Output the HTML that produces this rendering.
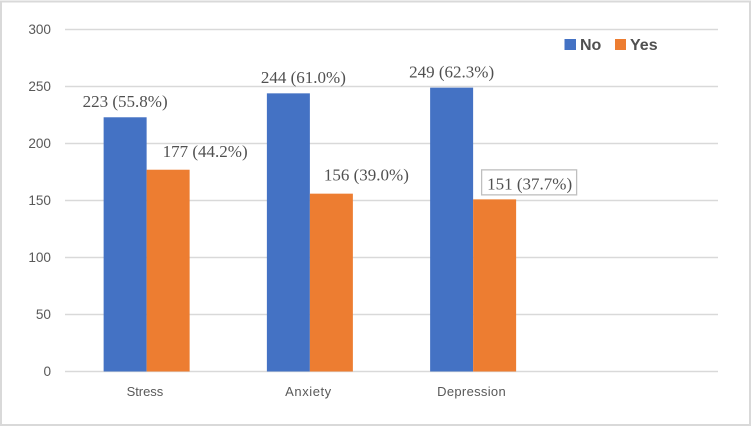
<!DOCTYPE html>
<html lang="en">
<head>
<meta charset="utf-8">
<title>Stress, Anxiety and Depression</title>
<style>
  html, body { margin: 0; padding: 0; background: #fff; }
  body { width: 752px; height: 426px; overflow: hidden; }
  svg { display: block; }
  .axis { font-family: "Liberation Sans", sans-serif; fill: #595959; }
  .val { font-family: "Liberation Serif", serif; font-size: 17px; fill: #505050; }
  .leg { font-family: "Liberation Sans", sans-serif; font-size: 16px; font-weight: bold; fill: #505050; }
</style>
</head>
<body>
<svg id="chart" width="752" height="426" viewBox="0 0 752 426" xmlns="http://www.w3.org/2000/svg">
  <rect x="1" y="1.5" width="749" height="423.5" fill="#fff" stroke="#d9d9d9" stroke-width="2"/>
  <g id="grid"></g>
  <g id="bars"></g>
  <g id="labels"></g>
  <g>
    <rect x="564.5" y="39" width="11.5" height="11" fill="#4472C4"/>
    <text class="leg" x="580" y="50">No</text>
    <rect x="615" y="39" width="11" height="11" fill="#ED7D31"/>
    <text class="leg" x="630" y="50">Yes</text>
  </g>
</svg>
<script>
const categories = ['Stress', 'Anxiety', 'Depression'];
const noValues = [223, 244, 249];
const yesValues = [177, 156, 151];
const noPercents = ['55.8', '61.0', '62.3'];
const yesPercents = ['44.2', '39.0', '37.7'];
const yTicks = [0, 50, 100, 150, 200, 250, 300];

const NS = 'http://www.w3.org/2000/svg';
const plot = { left: 65, right: 718, top: 29.5, bottom: 371.5, slots: 4, barW: 43 };
const noLabelShift = [[0, -10.5], [15, -10.5], [0, -10]];
const yesLabelShift = [[37, -12.5], [35, -13], [35, -10]];
const xLabelWidth = [36.6, 46, 68.5];

function yScale(v) {
  return plot.bottom - (v / 300) * (plot.bottom - plot.top);
}
function slotCentre(i) {
  return plot.left + (i + 0.5) * (plot.right - plot.left) / plot.slots;
}
function make(tag, attrs, parent, text) {
  const el = document.createElementNS(NS, tag);
  for (const k in attrs) el.setAttribute(k, attrs[k]);
  if (text !== undefined) el.textContent = text;
  parent.appendChild(el);
  return el;
}

const grid = document.getElementById('grid');
const bars = document.getElementById('bars');
const labels = document.getElementById('labels');

yTicks.forEach(function (t) {
  const y = yScale(t);
  const line = make('line', { x1: plot.left, x2: plot.right, y1: y, y2: y, stroke: '#d9d9d9', 'stroke-width': 1.4 }, grid);
  
  
  const tick = make('text', { class: 'axis', x: 51, y: y + 4.5, 'text-anchor': 'end', 'font-size': 13.6 }, grid, String(t));
  
  
});

categories.forEach(function (c, i) {
  const cx = slotCentre(i);
  const key = c.toLowerCase();

  const yNo = yScale(noValues[i]);
  const barNo = make('rect', { x: cx - plot.barW, y: yNo, width: plot.barW, height: plot.bottom - yNo, fill: '#4472C4' }, bars);
  
  

  const yYes = yScale(yesValues[i]);
  const barYes = make('rect', { x: cx, y: yYes, width: plot.barW, height: plot.bottom - yYes, fill: '#ED7D31' }, bars);
  
  

  const xLabel = make('text', { class: 'axis', x: cx - 1.7, y: 396, 'text-anchor': 'middle', 'font-size': 13, textLength: xLabelWidth[i], lengthAdjust: 'spacing' }, labels, c);
  
  

  const noX = cx - plot.barW / 2 + noLabelShift[i][0];
  const noText = make('text', { class: 'val', x: noX, y: yNo + noLabelShift[i][1], 'text-anchor': 'middle' }, labels, noValues[i] + ' (' + noPercents[i] + '%)');
  
  

  const yesX = cx + plot.barW / 2 + yesLabelShift[i][0];
  const yesY = yYes + yesLabelShift[i][1];
  if (i === 2) {
    const box = make('rect', { x: yesX - 48, y: yesY - 19.5, width: 95, height: 25, fill: '#fff', stroke: '#bfbfbf', 'stroke-width': 1.3 }, labels);
    
    
  }
  const yesText = make('text', { class: 'val', x: yesX, y: yesY, 'text-anchor': 'middle' }, labels, yesValues[i] + ' (' + yesPercents[i] + '%)');
  
  
});
</script>
</body>
</html>
